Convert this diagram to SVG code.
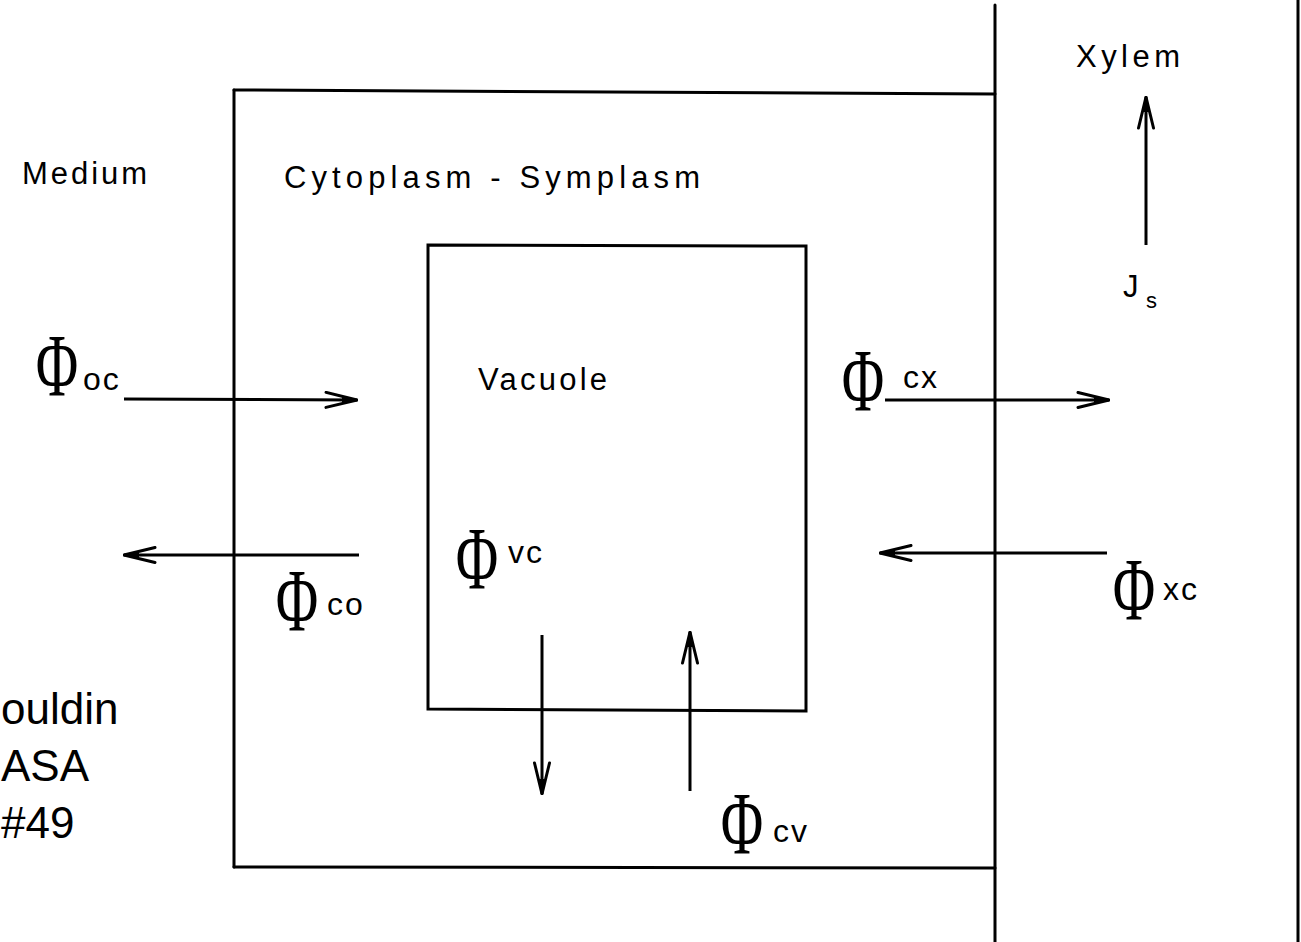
<svg xmlns="http://www.w3.org/2000/svg" width="1301" height="942" viewBox="0 0 1301 942">
  <style>
    .ln { stroke: #000; stroke-width: 3; fill: none; stroke-linecap: round; }
    .lbl { font-family: "Liberation Sans", Arial, sans-serif; font-size: 31px; fill: #000; }
    .sub { font-family: "Liberation Sans", Arial, sans-serif; font-size: 32px; fill: #000; letter-spacing: 2px; }
    .phi { font-family: "Liberation Serif", "Times New Roman", serif; font-size: 88px; fill: #000; text-anchor: middle; }
    .note { font-family: "Liberation Sans", Arial, sans-serif; font-size: 44px; fill: #000; }
    .arr { stroke: #000; stroke-width: 3; fill: none; marker-end: url(#head); }
  </style>
  <defs>
    <marker id="head" viewBox="0 0 34 18" refX="33" refY="9" markerWidth="34" markerHeight="18" markerUnits="userSpaceOnUse" orient="auto">
      <path d="M2,1.5 L33,9 L2,16.5" fill="none" stroke="#000" stroke-width="3" stroke-linecap="round" stroke-linejoin="round"/>
      <path d="M18,6 L33,9 L18,12 Z" fill="#000"/>
    </marker>
  </defs>
  <rect x="0" y="0" width="1301" height="942" fill="#fff"/>

  <g id="compartments">
    <path class="ln" d="M234,90 L995,94"/>
    <path class="ln" d="M234,90 L234,867"/>
    <path class="ln" d="M234,867 L995,868"/>
    <path class="ln" d="M995,5 L995,942"/>
    <path class="ln" d="M1298,0 L1298,942"/>
  </g>

  <g id="vacuole">
    <path class="ln" d="M428,245 L806,246 L806,711 L428,709 Z"/>
    <text class="lbl" x="478" y="390" textLength="129" lengthAdjust="spacing">Vacuole</text>
  </g>

  <g id="labels">
    <text class="lbl" x="22" y="184" textLength="125" lengthAdjust="spacing">Medium</text>
    <text class="lbl" x="284" y="188" textLength="416" lengthAdjust="spacing">Cytoplasm - Symplasm</text>
    <text class="lbl" x="1076" y="67" textLength="104" lengthAdjust="spacing">Xylem</text>
    <text class="lbl" x="1123" y="297">J</text>
    <text class="lbl" x="1146" y="308" style="font-size:22px">s</text>
  </g>

  <g id="note">
    <text class="note" x="1" y="724">ouldin</text>
    <text class="note" x="1" y="781">ASA</text>
    <text class="note" x="1" y="838">#49</text>
  </g>

  <g id="phi-oc">
    <text class="phi" transform="translate(57,395) scale(0.66,1)">Φ</text>
    <text class="sub" x="83" y="390">oc</text>
  </g>
  <g id="phi-co">
    <text class="phi" transform="translate(297,630) scale(0.66,1)">Φ</text>
    <text class="sub" x="327" y="615">co</text>
  </g>
  <g id="phi-vc">
    <text class="phi" transform="translate(477,588) scale(0.66,1)">Φ</text>
    <text class="sub" x="508" y="563">vc</text>
  </g>
  <g id="phi-cv">
    <text class="phi" transform="translate(742,853) scale(0.66,1)">Φ</text>
    <text class="sub" x="773" y="842">cv</text>
  </g>
  <g id="phi-cx">
    <text class="phi" transform="translate(863,410) scale(0.66,1)">Φ</text>
    <text class="sub" x="903" y="388">cx</text>
  </g>
  <g id="phi-xc">
    <text class="phi" transform="translate(1134,619) scale(0.66,1)">Φ</text>
    <text class="sub" x="1163" y="600">xc</text>
  </g>

  <g id="connectors">
    <line class="arr" x1="124" y1="399" x2="357" y2="400"/>
    <line class="arr" x1="359" y1="555" x2="124" y2="555"/>
    <line class="arr" x1="885" y1="400" x2="1109" y2="400"/>
    <line class="arr" x1="1107" y1="553" x2="880" y2="553"/>
    <line class="arr" x1="542" y1="635" x2="542" y2="794"/>
    <line class="arr" x1="690" y1="791" x2="690" y2="632"/>
    <line class="arr" x1="1146" y1="245" x2="1146" y2="97"/>
  </g>
</svg>
